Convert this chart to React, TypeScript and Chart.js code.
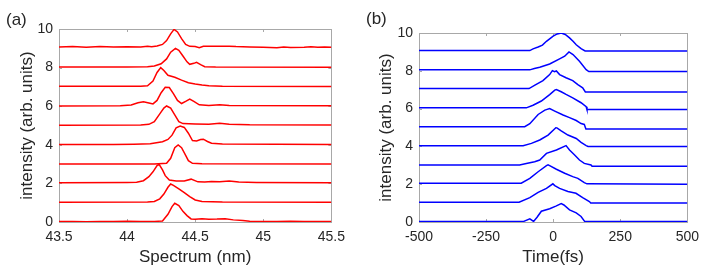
import React, { useEffect, useRef } from "react";
import { Chart, registerables } from "chart.js";

Chart.register(...registerables);

type Pt = [number, number];

// ---------- axis ticks ----------
const spectrumTicks = [43.5, 44, 44.5, 45, 45.5];
const timeTicks = [-500, -250, 0, 250, 500];
const intensityTicks = [0, 2, 4, 6, 8, 10];

// ---------- panel (a): spectra, [nm, intensity incl. offset] ----------
const spectrumTrace0: Pt[] = [
  [43.5, 0.02], [43.6, 0.03], [43.7, 0.01], [43.8, 0.03], [43.9, 0.02], [44.0, 0.04], [44.1, 0.02],
  [44.2, 0.03], [44.26, 0.05], [44.3, 0.4], [44.33, 0.8], [44.35, 0.97], [44.38, 0.85], [44.41, 0.55],
  [44.44, 0.33], [44.47, 0.16], [44.5, 0.14], [44.55, 0.17], [44.6, 0.14], [44.66, 0.15], [44.72, 0.17],
  [44.78, 0.11], [44.85, 0.08], [44.9, 0.04], [45.0, 0.03], [45.1, 0.02], [45.2, 0.04], [45.3, 0.02],
  [45.4, 0.03], [45.5, 0.02],
];
const spectrumTrace1: Pt[] = [
  [43.5, 1.02], [44.15, 1.03], [44.2, 1.06], [44.24, 1.2], [44.27, 1.45], [44.3, 1.8], [44.32, 1.97],
  [44.34, 1.9], [44.38, 1.72], [44.42, 1.52], [44.46, 1.32], [44.5, 1.14], [44.55, 1.06], [44.7, 1.03],
  [45.5, 1.02],
];
const spectrumTrace2: Pt[] = [
  [43.5, 2.04], [44.0, 2.05], [44.07, 2.06], [44.12, 2.14], [44.16, 2.35], [44.19, 2.6], [44.22, 2.92],
  [44.235, 2.99], [44.26, 2.7], [44.28, 2.4], [44.31, 2.17], [44.36, 2.13], [44.42, 2.13], [44.47, 2.22],
  [44.52, 2.08], [44.57, 2.07], [44.62, 2.1], [44.68, 2.08], [44.75, 2.12], [44.82, 2.07], [44.95, 2.05],
  [45.5, 2.04],
];
const spectrumTrace3: Pt[] = [
  [43.5, 3.0], [44.2, 3.01], [44.29, 3.04], [44.32, 3.3], [44.35, 3.85], [44.375, 3.99], [44.4, 3.85],
  [44.43, 3.45], [44.45, 3.18], [44.48, 3.04], [44.55, 3.02], [45.5, 3.0],
];
const spectrumTrace4: Pt[] = [
  [43.5, 4.01], [43.9, 4.01], [44.05, 4.03], [44.17, 4.05], [44.26, 4.16], [44.3, 4.28], [44.33, 4.5],
  [44.36, 4.88], [44.39, 4.97], [44.42, 4.9], [44.45, 4.6], [44.48, 4.22], [44.51, 4.2], [44.54, 4.27],
  [44.56, 4.29], [44.59, 4.17], [44.62, 4.08], [44.7, 4.04], [45.5, 4.01],
];
const spectrumTrace5: Pt[] = [
  [43.5, 5.01], [44.1, 5.02], [44.16, 5.06], [44.2, 5.2], [44.24, 5.6], [44.27, 5.9], [44.29, 6.01],
  [44.32, 5.9], [44.35, 5.55], [44.38, 5.2], [44.41, 5.1], [44.5, 5.08], [44.6, 5.06], [44.68, 5.11],
  [44.75, 5.07], [44.9, 5.04], [45.5, 5.02],
];
const spectrumTrace6: Pt[] = [
  [43.5, 6.01], [43.95, 6.02], [44.03, 6.06], [44.08, 6.18], [44.12, 6.23], [44.16, 6.17], [44.19, 6.12],
  [44.22, 6.3], [44.25, 6.7], [44.28, 6.98], [44.31, 6.97], [44.34, 6.65], [44.37, 6.3], [44.4, 6.14],
  [44.43, 6.25], [44.46, 6.37], [44.49, 6.25], [44.53, 6.07], [44.6, 6.04], [44.68, 6.07], [44.75, 6.03],
  [45.5, 6.02],
];
const spectrumTrace7: Pt[] = [
  [43.5, 7.03], [44.1, 7.03], [44.15, 7.06], [44.19, 7.3], [44.22, 7.75], [44.247, 8.0], [44.27, 7.85],
  [44.3, 7.6], [44.35, 7.5], [44.4, 7.35], [44.45, 7.22], [44.5, 7.15], [44.55, 7.1], [44.6, 7.06],
  [44.7, 7.04], [45.5, 7.02],
];
const spectrumTrace8: Pt[] = [
  [43.5, 8.03], [44.0, 8.03], [44.15, 8.04], [44.2, 8.08], [44.25, 8.2], [44.29, 8.45], [44.32, 8.8],
  [44.355, 9.0], [44.38, 8.9], [44.41, 8.6], [44.44, 8.3], [44.46, 8.17], [44.49, 8.22], [44.51, 8.27],
  [44.54, 8.15], [44.57, 8.05], [44.65, 8.03], [45.5, 8.02],
];
const spectrumTrace9: Pt[] = [
  [43.5, 9.07], [43.6, 9.09], [43.7, 9.06], [43.8, 9.09], [43.9, 9.07], [44.0, 9.08], [44.1, 9.07],
  [44.15, 9.11], [44.18, 9.08], [44.22, 9.12], [44.26, 9.2], [44.29, 9.4], [44.32, 9.75], [44.345, 9.98],
  [44.37, 9.85], [44.4, 9.5], [44.43, 9.2], [44.46, 9.1], [44.5, 9.09], [44.53, 9.03], [44.56, 9.1],
  [44.65, 9.1], [44.75, 9.11], [44.8, 9.09], [44.9, 9.07], [45.0, 9.06], [45.1, 9.03], [45.15, 9.07],
  [45.2, 9.04], [45.3, 9.06], [45.35, 9.08], [45.4, 9.05], [45.45, 9.07], [45.5, 9.06],
];

// ---------- panel (b): temporal profiles, [fs, intensity incl. offset] ----------
const timeTrace0: Pt[] = [
  [-500, 0.02], [-112, 0.02], [-87, 0.17], [-73, 0.03], [-60, 0.25], [-44, 0.57], [-13, 0.7], [10, 0.84],
  [30, 0.97], [40, 0.9], [61, 0.64], [86, 0.48], [104, 0.29], [118, 0.02], [500, 0.02],
];
const timeTrace1: Pt[] = [
  [-500, 1.05], [-127, 1.05], [-87, 1.29], [-56, 1.57], [-25, 1.78], [-1, 2.02], [6, 1.93], [24, 1.78],
  [55, 1.61], [85, 1.52], [110, 1.29], [135, 1.08], [140, 1.01], [500, 1.01],
];
const timeTrace2: Pt[] = [
  [-500, 2.05], [-119, 2.05], [-87, 2.31], [-56, 2.66], [-25, 2.98], [-19, 3.02], [-13, 2.98], [12, 2.79],
  [43, 2.58], [73, 2.4], [92, 2.31], [116, 2.08], [126, 2.02], [500, 2.0],
];
const timeTrace3: Pt[] = [
  [-500, 3.02], [-125, 3.02], [-100, 3.1], [-69, 3.19], [-50, 3.28], [-25, 3.63], [12, 3.81], [48, 4.04],
  [61, 3.81], [80, 3.55], [98, 3.28], [116, 3.1], [141, 3.02], [145, 2.95], [500, 2.95],
];
const timeTrace4: Pt[] = [
  [-500, 4.04], [-112, 4.04], [-81, 4.16], [-50, 4.34], [-19, 4.6], [10, 4.99], [14, 4.98], [30, 4.82],
  [55, 4.6], [86, 4.42], [104, 4.21], [123, 4.04], [130, 4.0], [500, 4.0],
];
const timeTrace5: Pt[] = [
  [-500, 5.04], [-106, 5.04], [-87, 5.2], [-56, 5.69], [-31, 5.92], [-13, 6.0], [6, 5.87], [37, 5.66],
  [61, 5.52], [86, 5.37], [104, 5.21], [116, 5.16], [122, 4.92], [500, 4.92],
];
const timeTrace6: Pt[] = [
  [-500, 6.04], [-100, 6.04], [-75, 6.18], [-44, 6.4], [-13, 6.74], [6, 6.98], [12, 7.01], [30, 6.89],
  [48, 6.75], [73, 6.57], [104, 6.31], [123, 6.1], [126, 5.95], [500, 5.95],
];
const timeTrace7: Pt[] = [
  [-500, 7.06], [-90, 7.06], [-68, 7.24], [-38, 7.48], [-13, 7.8], [-3, 8.01], [5, 7.95], [12, 7.99],
  [24, 7.8], [48, 7.63], [73, 7.48], [92, 7.27], [110, 7.1], [120, 6.88], [500, 6.88],
];
const timeTrace8: Pt[] = [
  [-500, 8.05], [-87, 8.05], [-70, 8.12], [-50, 8.19], [-13, 8.36], [24, 8.63], [43, 8.77], [59, 9.0],
  [74, 8.86], [98, 8.5], [123, 8.06], [133, 7.96], [500, 7.96],
];
const timeTrace9: Pt[] = [
  [-500, 9.07], [-87, 9.07], [-75, 9.16], [-56, 9.26], [-40, 9.36], [-25, 9.56], [0, 9.83], [15, 9.95],
  [30, 10.0], [45, 9.92], [61, 9.74], [75, 9.55], [86, 9.38], [104, 9.17], [119, 9.05], [500, 9.05],
];

const spectrumTraces = [
  spectrumTrace0, spectrumTrace1, spectrumTrace2, spectrumTrace3, spectrumTrace4,
  spectrumTrace5, spectrumTrace6, spectrumTrace7, spectrumTrace8, spectrumTrace9,
];
const timeTraces = [
  timeTrace0, timeTrace1, timeTrace2, timeTrace3, timeTrace4,
  timeTrace5, timeTrace6, timeTrace7, timeTrace8, timeTrace9,
];

const FONT = "'Liberation Sans', Arial, Helvetica, sans-serif";
const TEXT = "#262626";
const AXIS = "#a8a8a8";

const boxPlugin = {
  id: "matlabBox",
  beforeDatasetsDraw(chart: any) {
    const { ctx, chartArea: a, scales } = chart;
    ctx.save();
    ctx.strokeStyle = AXIS;
    ctx.lineWidth = 1;
    ctx.strokeRect(Math.round(a.left) + 0.5, Math.round(a.top) + 0.5, Math.round(a.right - a.left), Math.round(a.bottom - a.top));
    const L = 3;
    ctx.beginPath();
    for (const t of scales.x.ticks) {
      const px = Math.round(scales.x.getPixelForValue(t.value)) + 0.5;
      ctx.moveTo(px, a.bottom);
      ctx.lineTo(px, a.bottom - L);
      ctx.moveTo(px, a.top);
      ctx.lineTo(px, a.top + L);
    }
    for (const t of scales.y.ticks) {
      const py = Math.round(scales.y.getPixelForValue(t.value)) + 0.5;
      ctx.moveTo(a.left, py);
      ctx.lineTo(a.left + L, py);
      ctx.moveTo(a.right, py);
      ctx.lineTo(a.right - L, py);
    }
    ctx.stroke();
    ctx.restore();
  },
  afterDraw(chart: any) {
    const o = chart.options.plugins.matlabBox;
    const { ctx } = chart;
    ctx.save();
    ctx.font = `17px ${FONT}`;
    ctx.fillStyle = TEXT;
    ctx.textAlign = "left";
    ctx.textBaseline = "middle";
    ctx.fillText(o.label, o.labelX, o.labelY);
    ctx.restore();
  },
};

interface PanelProps {
  traces: Pt[][];
  color: string;
  xTicks: number[];
  xTitle: string;
  left: number;
  width: number;
  padTop: number;
  padRight: number;
  yWidth: number;
  yTitlePad: number;
  label: string;
  labelX: number;
  labelY: number;
}

function Panel(p: PanelProps) {
  const ref = useRef<HTMLCanvasElement>(null);
  useEffect(() => {
    const xMin = p.xTicks[0];
    const xMax = p.xTicks[p.xTicks.length - 1];
    const chart = new Chart(ref.current as HTMLCanvasElement, {
      type: "line",
      data: {
        datasets: p.traces.map((tr) => ({
          data: tr.map(([x, y]) => ({ x, y })),
          borderColor: p.color,
          borderWidth: 1.5,
          pointRadius: 0,
          tension: 0,
          fill: false,
        })),
      },
      options: {
        animation: false,
        responsive: false,
        devicePixelRatio: 1,
        layout: { padding: { left: 0, top: p.padTop, right: p.padRight, bottom: 0 } },
        plugins: {
          legend: { display: false },
          tooltip: { enabled: false },
          matlabBox: { label: p.label, labelX: p.labelX, labelY: p.labelY },
        } as any,
        scales: {
          x: {
            type: "linear",
            min: xMin,
            max: xMax,
            afterBuildTicks: (s: any) => {
              s.ticks = p.xTicks.map((v) => ({ value: v }));
            },
            ticks: {
              autoSkip: false,
              maxRotation: 0,
              font: { family: FONT, size: 14 },
              color: TEXT,
              padding: 7,
              callback: (v: any) => String(v),
            },
            grid: { display: false, drawTicks: false },
            border: { display: false },
            title: {
              display: true,
              text: p.xTitle,
              font: { family: FONT, size: 17 },
              color: TEXT,
              padding: { top: 0, bottom: 5 },
            },
            afterFit: (s: any) => {
              s.height = 51;
            },
          },
          y: {
            type: "linear",
            min: 0,
            max: 10,
            afterBuildTicks: (s: any) => {
              s.ticks = intensityTicks.map((v) => ({ value: v }));
            },
            ticks: {
              autoSkip: false,
              font: { family: FONT, size: 14 },
              color: TEXT,
              padding: 6,
              callback: (v: any) => String(v),
            },
            grid: { display: false, drawTicks: false },
            border: { display: false },
            title: {
              display: true,
              text: "intensity (arb. units)",
              font: { family: FONT, size: 17 },
              color: TEXT,
              padding: { top: p.yTitlePad, bottom: 0 },
            },
            afterFit: (s: any) => {
              s.width = p.yWidth;
            },
          },
        },
      },
      plugins: [boxPlugin],
    } as any);
    return () => chart.destroy();
  }, []);
  return (
    <canvas
      ref={ref}
      width={p.width}
      height={273}
      style={{ position: "absolute", left: p.left, top: 0, width: p.width, height: 273 }}
    />
  );
}

export default function App() {
  return (
    <div style={{ position: "absolute", left: 0, top: 0, width: 706, height: 273, background: "#fff", overflow: "hidden" }}>
      <Panel
        traces={spectrumTraces}
        color="#ff0000"
        xTicks={spectrumTicks}
        xTitle="Spectrum (nm)"
        left={0}
        width={352}
        padTop={29}
        padRight={20}
        yWidth={59}
        yTitlePad={17}
        label="(a)"
        labelX={6}
        labelY={20}
      />
      <Panel
        traces={timeTraces}
        color="#0000ff"
        xTicks={timeTicks}
        xTitle="Time(fs)"
        left={352}
        width={354}
        padTop={33}
        padRight={18}
        yWidth={67}
        yTitlePad={24}
        label="(b)"
        labelX={14}
        labelY={19}
      />
    </div>
  );
}
